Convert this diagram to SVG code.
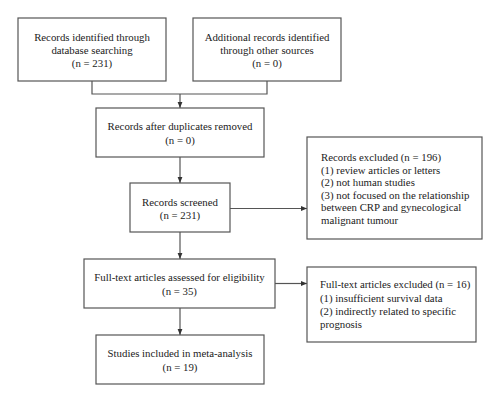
<svg xmlns="http://www.w3.org/2000/svg" width="500" height="402" viewBox="0 0 500 402">
<style>
.box{fill:#fff;stroke:#555;stroke-width:1.2}
.t{font-family:"Liberation Serif","Times New Roman",serif;font-size:10.8px;fill:#222}
.c{text-anchor:middle}
.ln{fill:none;stroke:#555;stroke-width:1.2}
</style>
<defs>
<marker id="ah" viewBox="0 0 10 10" refX="10" refY="5" markerWidth="6" markerHeight="6" orient="auto" markerUnits="userSpaceOnUse">
<path d="M0,1 L10,5 L0,9 Z" fill="#333"/>
</marker>
</defs>
<rect width="500" height="402" fill="#fff"/>
<g id="connectors">
<path class="ln" d="M92,81 V94 H267 V81"/>
<path class="ln" d="M180,94 V108" marker-end="url(#ah)"/>
<path class="ln" d="M180,157 V183" marker-end="url(#ah)"/>
<path class="ln" d="M230,208.5 H307" marker-end="url(#ah)"/>
<path class="ln" d="M180,232 V259" marker-end="url(#ah)"/>
<path class="ln" d="M275,283.5 H307" marker-end="url(#ah)"/>
<path class="ln" d="M180,308 V335" marker-end="url(#ah)"/>
</g>
<g id="n1">
<rect class="box" x="18" y="18" width="148" height="63"/>
<text class="t c" x="92" y="40.5">Records identified through</text>
<text class="t c" x="92" y="54">database searching</text>
<text class="t c" x="92" y="67">(n = 231)</text>
</g>
<g id="n2">
<rect class="box" x="193" y="18" width="148" height="63"/>
<text class="t c" x="267" y="40.5">Additional records identified</text>
<text class="t c" x="267" y="54">through other sources</text>
<text class="t c" x="267" y="67">(n = 0)</text>
</g>
<g id="n3">
<rect class="box" x="96" y="108" width="168" height="49"/>
<text class="t c" x="180" y="130">Records after duplicates removed</text>
<text class="t c" x="180" y="143.5">(n = 0)</text>
</g>
<g id="n4">
<rect class="box" x="130" y="183" width="100" height="49"/>
<text class="t c" x="180" y="205.5">Records screened</text>
<text class="t c" x="180" y="219">(n = 231)</text>
</g>
<g id="n5">
<rect class="box" x="307" y="137" width="175" height="102"/>
<text class="t" x="321" y="161">Records excluded (n = 196)</text>
<text class="t" x="321" y="173.5">(1) review articles or letters</text>
<text class="t" x="321" y="186">(2) not human studies</text>
<text class="t" x="321" y="198.5">(3) not focused on the relationship</text>
<text class="t" x="321" y="211">between CRP and gynecological</text>
<text class="t" x="321" y="223.5">malignant tumour</text>
</g>
<g id="n6">
<rect class="box" x="84" y="259" width="191" height="49"/>
<text class="t c" x="179.5" y="281">Full-text articles assessed for eligibility</text>
<text class="t c" x="179.5" y="294.5">(n = 35)</text>
</g>
<g id="n7">
<rect class="box" x="307" y="267" width="169" height="75"/>
<text class="t" x="320" y="288">Full-text articles excluded (n = 16)</text>
<text class="t" x="320" y="301.5">(1) insufficient survival data</text>
<text class="t" x="320" y="314.5">(2) indirectly related to specific</text>
<text class="t" x="320" y="327.5">prognosis</text>
</g>
<g id="n8">
<rect class="box" x="96" y="335" width="168" height="49"/>
<text class="t c" x="180" y="357">Studies included in meta-analysis</text>
<text class="t c" x="180" y="370.5">(n = 19)</text>
</g>
</svg>
